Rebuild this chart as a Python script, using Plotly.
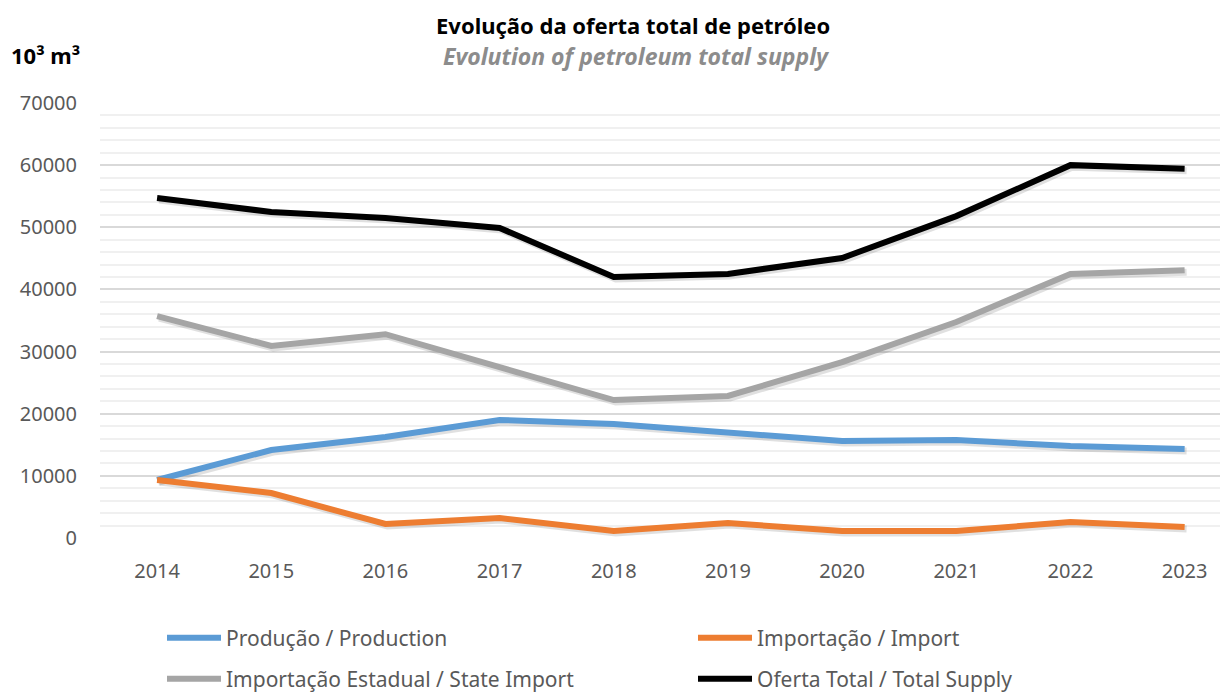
import plotly.graph_objects as go

years = ["2014", "2015", "2016", "2017", "2018", "2019", "2020", "2021", "2022", "2023"]
producao = [9330, 14160, 16250, 19000, 18350, 17060, 15600, 15770, 14800, 14320]
importacao = [9330, 7240, 2250, 3220, 1130, 2410, 1130, 1130, 2570, 1770]
import_estadual = [35700, 30900, 32800, 27400, 22200, 22850, 28300, 34760, 42500, 43100]
oferta_total = [54700, 52460, 51500, 49900, 42000, 42500, 45060, 51800, 60000, 59400]

names = ["Produção / Production", "Importação / Import",
         "Importação Estadual / State Import", "Oferta Total / Total Supply"]
series = [producao, importacao, import_estadual, oferta_total]
colors = ["#5b9bd5", "#ed7d31", "#a5a5a5", "#000000"]
legends = ["legend", "legend", "legend2", "legend2"]

FONT = "'Noto Sans', 'Open Sans', sans-serif"
OFF = 8  # page offset of the figure (body margin)
W, H = 1228 - OFF, 695 - OFF
ML, MR, MT, MB = 100 - OFF, 0, 103 - OFF, H - (538 - OFF)
XR = [-0.5, 9.38]
YR = [0, 70000]
pw = W - ML - MR
ph = H - MT - MB
# shadow axis offset (pixels)
dx_px, dy_px = 2, 2
dx = dx_px * (XR[1] - XR[0]) / pw
dy = dy_px * (YR[1] - YR[0]) / ph


def px_x(page_x):
    return (page_x - OFF - ML) / pw


def px_y(page_y):
    return (538 - page_y) / ph


fig = go.Figure()
# invisible trace on the base axes so ticks/grid render
fig.add_trace(go.Scatter(x=years, y=oferta_total, mode="lines", line=dict(width=0),
                         opacity=0, showlegend=False, hoverinfo="skip"))
for s, c in zip(series, colors):
    fig.add_trace(go.Scatter(x=years, y=s, mode="lines", xaxis="x2", yaxis="y2",
                             line=dict(color="rgba(0,0,0,0.12)", width=7),
                             showlegend=False, hoverinfo="skip"))
for n, s, c, lg in zip(names, series, colors, legends):
    fig.add_trace(go.Scatter(x=years, y=s, name=n, mode="lines", legend=lg,
                             xaxis="x3", yaxis="y3",
                             line=dict(color=c, width=6)))

legend_common = dict(orientation="h", x=px_x(162), xanchor="left", yanchor="middle",
                     entrywidth=462, entrywidthmode="pixels",
                     font=dict(size=21, color="#595959", family=FONT),
                     bgcolor="rgba(0,0,0,0)", itemwidth=54)

fig.update_layout(
    width=W, height=H,
    margin=dict(l=ML, r=MR, t=MT, b=MB, autoexpand=False),
    plot_bgcolor="white", paper_bgcolor="white",
    font=dict(family=FONT, color="#595959", size=20),
    xaxis=dict(type="category", range=XR, showgrid=False, zeroline=False,
               showline=False, ticks="", tickfont=dict(size=20, color="#595959"),
               ticklabelstandoff=19),
    yaxis=dict(range=YR, dtick=10000, tickformat="d", showgrid=True,
               gridcolor="#d9d9d9", gridwidth=1.5,
               zeroline=False, showline=False, ticks="",
               tickfont=dict(size=20, color="#595959"), ticklabelstandoff=22,
               minor=dict(dtick=2000, showgrid=True, gridcolor="#f0f0f0", gridwidth=1.5)),
    xaxis2=dict(type="category", range=[XR[0] - dx, XR[1] - dx], overlaying="x",
                visible=False),
    yaxis2=dict(range=[YR[0] + dy, YR[1] + dy], overlaying="y", visible=False),
    xaxis3=dict(type="category", range=XR, overlaying="x", visible=False),
    yaxis3=dict(range=YR, overlaying="y", visible=False),
    legend=dict(legend_common, y=px_y(638)),
    legend2=dict(legend_common, y=px_y(679)),
    showlegend=True,
)

fig.add_annotation(text="<b>Evolução da oferta total de petróleo</b>",
                   xref="paper", yref="paper", x=px_x(633), y=px_y(8.5),
                   xanchor="center", yanchor="top", showarrow=False,
                   font=dict(size=22, color="#000000", family=FONT))
fig.add_annotation(text="<b><i>Evolution of petroleum total supply</i></b>",
                   xref="paper", yref="paper", x=px_x(636), y=px_y(56),
                   xanchor="center", yanchor="middle", showarrow=False,
                   font=dict(size=23, color="#8c8c8c", family=FONT))
fig.add_annotation(text="<b>10³ m³</b>",
                   xref="paper", yref="paper", x=px_x(9), y=px_y(55),
                   xanchor="left", yanchor="middle", showarrow=False,
                   font=dict(size=22, color="#000000", family=FONT))

fig.write_html("out.html")
